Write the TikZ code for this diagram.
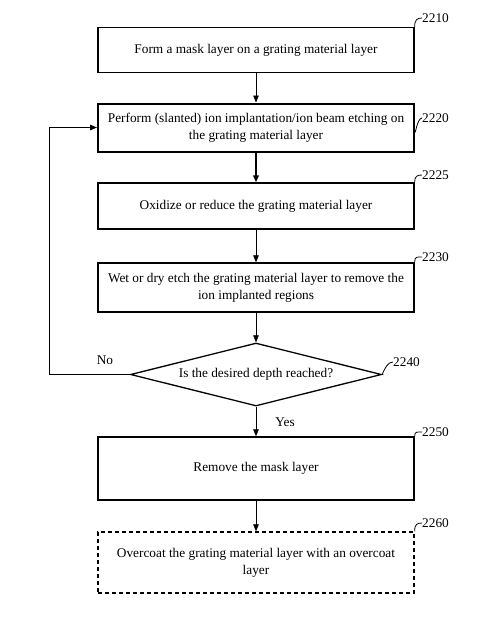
\documentclass[tikz,border=0pt]{standalone}
\usepackage{fontspec}
\setmainfont{Liberation Serif}
\usetikzlibrary{shapes.geometric,arrows.meta}
\begin{document}
\begin{tikzpicture}[x=1pt,y=-1pt,
  every node/.style={font=\fontsize{13.3}{17}\selectfont},
  stepbox/.style={draw,line width=1.3pt,rectangle,minimum width=316pt,align=center,inner sep=0pt},
  thickbox/.style={stepbox,line width=2pt},
  dashbox/.style={stepbox,dashed,dash pattern=on 4pt off 3pt},
  arr/.style={line width=0.7pt,-{Triangle[length=7pt,width=5.5pt]}},
  thickarr/.style={line width=2pt,-{Triangle[length=7pt,width=5.5pt]}},
  lead/.style={line width=0.8pt},
  reflabel/.style={anchor=west,inner sep=0pt}
]
\useasboundingbox (0,0) rectangle (499,625);
\fill[white] (0,0) rectangle (499,625);

\node[stepbox,minimum height=45pt] (b1) at (256,50) {Form a mask layer on a grating material layer};
\node[thickbox,minimum height=48pt] (b2) at (256,127.5) {Perform (slanted) ion implantation/ion beam etching on\\the grating material layer};
\node[stepbox,minimum height=46pt] (b3) at (256,206) {Oxidize or reduce the grating material layer};
\node[stepbox,minimum height=49pt] (b4) at (256,287.5) {Wet or dry etch the grating material layer to remove the\\ion implanted regions};
\node[draw,diamond,shape aspect=3.98,line width=1.3pt,minimum width=251pt,minimum height=63pt,inner sep=0pt] (d) at (256,374.5) {Is the desired depth reached?};
\node[stepbox,minimum height=63pt] (b5) at (256,468.5) {Remove the mask layer};
\node[dashbox,minimum height=61pt] (b6) at (256,562.5) {Overcoat the grating material layer with an overcoat\\layer};

\draw[arr] (b1) -- (b2);
\draw[thickarr] (b2) -- (b3);
\draw[arr] (b3) -- (b4);
\draw[arr] (b4) -- (d);
\draw[arr] (d) -- (b5);
\draw[arr] (b5) -- (b6);
\draw[line width=1pt,-{Triangle[length=7pt,width=5.5pt]}] (d.west) -- ++(-80,0) coordinate (lp) |- (b2.west);

\node (no) at (105,360) {No};
\node (yes) at (285,422) {Yes};

\node[reflabel] (l1) at (422,18) {2210};
\node[reflabel] (l2) at (422,118) {2220};
\node[reflabel] (l3) at (422,175) {2225};
\node[reflabel] (l4) at (422,257) {2230};
\node[reflabel] (l5) at (393,362) {2240};
\node[reflabel] (l6) at (422,432) {2250};
\node[reflabel] (l7) at (422,523) {2260};

\draw[lead] (b1.north east) .. controls +(0,-7) and +(-5,0) .. (l1.west);
\draw[lead] ([yshift=-3pt]b2.east) .. controls +(0,7) and +(-5,0) .. (l2.west);
\draw[lead] (b3.north east) .. controls +(0,-6) and +(-5,0) .. (l3.west);
\draw[lead] (b4.north east) .. controls +(0,-6) and +(-5,0) .. (l4.west);
\draw[lead] (d.east) .. controls +(3,-7) and +(-5,0) .. (l5.west);
\draw[lead] (b5.north east) .. controls +(0,-5) and +(-5,0) .. (l6.west);
\draw[lead] (b6.north east) .. controls +(0,-7) and +(-5,0) .. (l7.west);
\end{tikzpicture}
\end{document}
